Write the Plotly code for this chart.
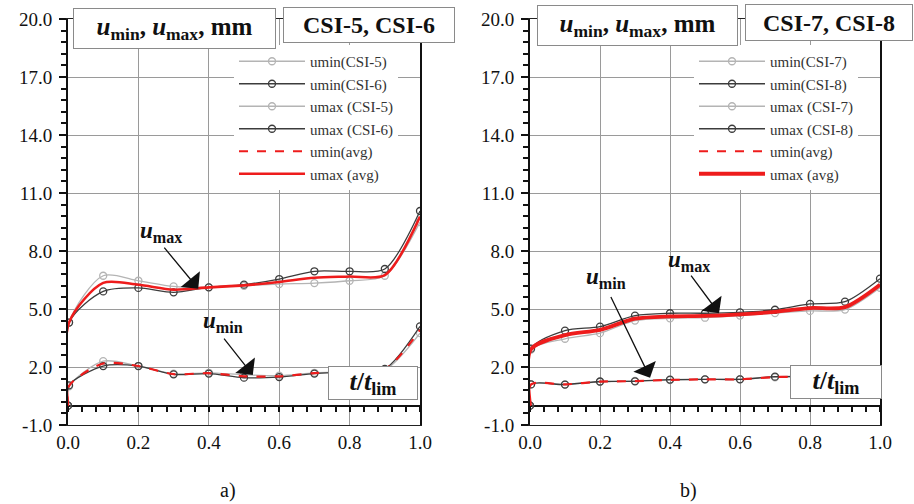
import plotly.graph_objects as go

W, H = 914, 504

# ---------------- data ----------------
t = [0, 0.003, 0.1, 0.2, 0.3, 0.4, 0.5, 0.6, 0.7, 0.8, 0.9, 1.0]

# panel a) CSI-5, CSI-6
umin_csi5 = [0, 1.00, 2.30, 2.05, 1.65, 1.70, 1.60, 1.55, 1.70, 1.75, 1.85, 3.75]
umin_csi6 = [0, 1.05, 2.05, 2.05, 1.62, 1.66, 1.45, 1.48, 1.66, 1.75, 1.90, 4.10]
umax_csi5 = [0, 4.30, 6.72, 6.46, 6.17, 6.12, 6.20, 6.29, 6.34, 6.46, 6.72, 9.50]
umax_csi6 = [0, 4.30, 5.91, 6.09, 5.86, 6.12, 6.26, 6.55, 6.95, 6.95, 7.07, 10.07]
umin_avg_a = [0, 1.02, 2.18, 2.05, 1.63, 1.68, 1.52, 1.52, 1.68, 1.75, 1.88, 3.92]
umax_avg_a = [0, 4.30, 6.35, 6.25, 6.00, 6.12, 6.22, 6.40, 6.62, 6.68, 6.75, 9.78]

# panel b) CSI-7, CSI-8
umin_csi7 = [0, 1.10, 1.10, 1.23, 1.28, 1.32, 1.36, 1.37, 1.47, 1.50, 1.52, 1.50]
umin_csi8 = [0, 1.10, 1.09, 1.25, 1.26, 1.35, 1.36, 1.36, 1.50, 1.52, 1.55, 1.58]
umax_csi7 = [0, 2.90, 3.46, 3.75, 4.40, 4.52, 4.55, 4.66, 4.79, 4.90, 4.97, 6.10]
umax_csi8 = [0, 2.95, 3.88, 4.09, 4.66, 4.78, 4.78, 4.83, 4.96, 5.26, 5.38, 6.57]
umin_avg_b = [0, 1.10, 1.10, 1.24, 1.27, 1.33, 1.36, 1.36, 1.48, 1.50, 1.53, 1.53]
umax_avg_b = [0, 2.92, 3.65, 3.92, 4.50, 4.62, 4.64, 4.72, 4.85, 5.05, 5.10, 6.25]

names_a = ["umin(CSI-5)", "umin(CSI-6)", "umax (CSI-5)", "umax (CSI-6)", "umin(avg)", "umax (avg)"]
names_b = ["umin(CSI-7)", "umin(CSI-8)", "umax (CSI-7)", "umax (CSI-8)", "umin(avg)", "umax (avg)"]

x_ticks = [0.0, 0.2, 0.4, 0.6, 0.8, 1.0]
y_ticks = [-1.0, 2.0, 5.0, 8.0, 11.0, 14.0, 17.0, 20.0]

# ---------------- helpers ----------------
def px(x):
    return x / W

def py(y):
    return 1 - y / H

SERIF = "Liberation Serif"
LIGHT = "#b4b4b4"
DARK = "#3c3c3c"
RED = "#ee1c1c"

dom_a = [px(68), px(420)]
dom_b = [px(530), px(880)]
dom_y = [py(425), py(19)]
zero_pos = dom_y[0] + (dom_y[1] - dom_y[0]) * (1 / 21)

fig = go.Figure()

def add_panel(xa, ya, leg, series, names, red_w):
    styles = [
        dict(color=LIGHT, marker=True, dash="solid", width=1.3),
        dict(color=DARK, marker=True, dash="solid", width=1.3),
        dict(color=LIGHT, marker=True, dash="solid", width=1.3),
        dict(color=DARK, marker=True, dash="solid", width=1.3),
        dict(color=RED, marker=False, dash="dash", width=2.2),
        dict(color=RED, marker=False, dash="solid", width=red_w),
    ]
    for i, (s, n, st) in enumerate(zip(series, names, styles)):
        fig.add_trace(go.Scatter(
            x=t, y=s, name=n, xaxis=xa, yaxis=ya, legend=leg,
            legendgroup=leg + str(i),
            mode="lines+markers" if st["marker"] else "lines",
            line=dict(color=st["color"], width=st["width"], dash=st["dash"],
                      shape="spline", smoothing=0.8),
            marker=dict(symbol="circle-open", size=7,
                        color=st["color"], line=dict(width=1.3, color=st["color"])),
        ))

add_panel("x", "y", "legend",
          [umin_csi5, umin_csi6, umax_csi5, umax_csi6, umin_avg_a, umax_avg_a], names_a, 2.6)
add_panel("x2", "y2", "legend2",
          [umin_csi7, umin_csi8, umax_csi7, umax_csi8, umin_avg_b, umax_avg_b], names_b, 3.8)

tickfont = dict(family=SERIF, size=19, color="#111")

def xaxis_cfg(dom, anchor):
    return dict(domain=dom, anchor=anchor, range=[0, 1], tickvals=x_ticks,
                ticktext=[f"{v:.1f}" for v in x_ticks], tickfont=tickfont,
                showgrid=True, gridcolor="#9a9a9a", gridwidth=1,
                showline=True, linecolor="#222", linewidth=1.2, mirror=True,
                ticks="", ticklabelstandoff=0, zeroline=False, fixedrange=True,
                automargin=False)

def yaxis_cfg(anchor):
    return dict(domain=dom_y, anchor=anchor, range=[-1, 20], tickvals=y_ticks,
                ticktext=[f"{v:.1f}" for v in y_ticks], tickfont=tickfont,
                showgrid=True, gridcolor="#9a9a9a", gridwidth=1,
                showline=True, linecolor="#111", linewidth=2, mirror=True,
                ticks="outside", ticklen=7, tickwidth=1.5, tickcolor="#111",
                minor=dict(tick0=-1, dtick=0.6, ticks="outside", ticklen=5,
                           tickwidth=1.5, tickcolor="#111", showgrid=False),
                zeroline=True, zerolinecolor="#111", zerolinewidth=2,
                ticklabelstandoff=3, fixedrange=True, automargin=False)

def zero_tick_axis(overlay):
    return dict(overlaying=overlay, anchor="free", position=zero_pos, side="bottom",
                range=[0, 1], tick0=0, dtick=0.04, ticks="outside", ticklen=5,
                tickwidth=1.5, tickcolor="#111", showticklabels=False,
                showgrid=False, showline=False, zeroline=False, fixedrange=True,
                automargin=False)

fig.update_layout(
    width=W, height=H,
    margin=dict(l=0, r=0, t=0, b=0, pad=0, autoexpand=False),
    paper_bgcolor="white", plot_bgcolor="white",
    xaxis=xaxis_cfg(dom_a, "y"),
    yaxis=yaxis_cfg("x"),
    xaxis2=xaxis_cfg(dom_b, "y2"),
    yaxis2=yaxis_cfg("x2"),
    xaxis3=zero_tick_axis("x"),
    xaxis4=zero_tick_axis("x2"),
    showlegend=True,
)

legend_common = dict(xanchor="left", yanchor="top", bgcolor="white",
                     borderwidth=0, font=dict(family=SERIF, size=15, color="#333"),
                     itemwidth=66, traceorder="grouped", tracegroupgap=0,
                     itemclick=False, itemdoubleclick=False)
fig.update_layout(
    legend=dict(x=px(234), y=py(45), **legend_common),
    legend2=dict(x=px(694), y=py(45), **legend_common),
)

# ensure the overlay axes have a dummy trace so they render
for xa in ["x3", "x4"]:
    fig.add_trace(go.Scatter(x=[0, 1], y=[None, None], xaxis=xa, yaxis="y" if xa == "x3" else "y2",
                             showlegend=False, hoverinfo="skip", mode="lines"))

# ---------------- boxes and labels ----------------
title_u = "<b><i>u</i><sub>min</sub>, <i>u</i><sub>max</sub>, mm</b>"

def box(cx, cy, w, h, text, size):
    fig.add_annotation(xref="paper", yref="paper", x=px(cx), y=py(cy),
                       xanchor="center", yanchor="middle", showarrow=False,
                       text=text, font=dict(family=SERIF, size=size, color="#111"),
                       width=w, height=h, bgcolor="white", bordercolor="#8a8a8a",
                       borderwidth=1, borderpad=0)

box(174, 28, 201, 39, title_u, 25)
box(369, 25, 170, 34, "<b>CSI-5, CSI-6</b>", 24)
box(637, 25, 199, 39, title_u, 25)
box(829, 23, 166, 35, "<b>CSI-7, CSI-8</b>", 24)

tlim = "<b><i>t</i>/<i>t</i><sub>lim</sub></b>"
box(373, 383, 88, 32, tlim, 26)
box(836, 382, 90, 32, tlim, 26)

def label(xa, ya, x, y, text):
    fig.add_annotation(xref=xa, yref=ya, x=x, y=y, showarrow=False, text=text,
                       xanchor="center", yanchor="middle",
                       font=dict(family=SERIF, size=23, color="#111"))

def arrow(xa, ya, x0, y0, x1, y1):
    fig.add_annotation(xref=xa, yref=ya, axref=xa, ayref=ya, x=x1, y=y1, ax=x0, ay=y0,
                       text="", showarrow=True, arrowhead=1, arrowsize=3.2,
                       arrowwidth=1.3, arrowcolor="#111", standoff=0)

umax_lbl = "<b><i>u</i><sub>max</sub></b>"
umin_lbl = "<b><i>u</i><sub>min</sub></b>"

label("x", "y", 0.265, 9.0, umax_lbl)
arrow("x", "y", 0.27, 8.25, 0.37, 6.05)
label("x", "y", 0.44, 4.35, umin_lbl)
arrow("x", "y", 0.44, 3.55, 0.525, 1.58)

label("x2", "y2", 0.455, 7.5, umax_lbl)
arrow("x2", "y2", 0.457, 6.8, 0.54, 4.78)
label("x2", "y2", 0.217, 6.6, umin_lbl)
arrow("x2", "y2", 0.229, 5.7, 0.343, 1.45)

for cx, txt in [(228, "a)"), (688, "b)")]:
    fig.add_annotation(xref="paper", yref="paper", x=px(cx), y=py(490), showarrow=False,
                       xanchor="center", yanchor="middle",
                       text=txt, font=dict(family=SERIF, size=20, color="#111"))

fig.write_html("out.html")
